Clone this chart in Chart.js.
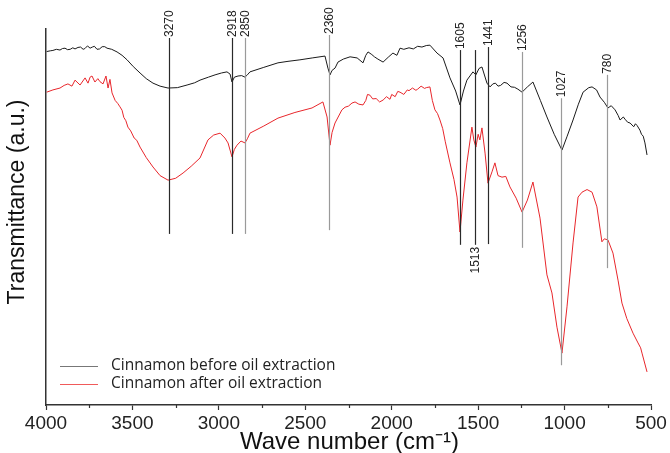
<!DOCTYPE html>
<html>
<head>
<meta charset="utf-8">
<script src="https://cdn.jsdelivr.net/npm/chart.js@4/dist/chart.umd.min.js"></script>
<style>
html,body{margin:0;padding:0;background:#fff;}
#wrap{width:670px;height:453px;position:relative;}
</style>
</head>
<body>
<div id="wrap"><canvas id="c" width="670" height="453"></canvas></div>
<script>
// ---- data (wavenumber in cm-1, transmittance in a.u.) ----
const seriesNames = ['Cinnamon before oil extraction', 'Cinnamon after oil extraction'];

const beforeWn = [3996,3975,3960,3940,3919,3905,3890,3875,3860,3845,3832,3815,3800,3785,3775,3760,3745,3732,3720,3705,3690,3675,3660,3647,3620,3589,3560,3531,3495,3456,3420,3381,3340,3294,3240,3184,3140,3109,3060,3022,2985,2953,2935,2924,2910,2889,2868,2849,2835,2820,2740,2658,2600,2531,2460,2386,2369,2357,2345,2328,2311,2280,2241,2200,2166,2150,2137,2115,2100,2080,2050,2020,1993,1970,1952,1930,1900,1875,1850,1825,1800,1779,1738,1703,1663,1630,1605,1585,1565,1530,1513,1495,1478,1449,1431,1415,1400,1385,1370,1350,1333,1310,1290,1270,1246,1215,1183,1140,1102,1060,1015,985,951,920,893,860,841,815,795,770,749,730,708,690,679,660,650,635,621,600,590,580,564,555,545,535,523];
const beforeT  = [94.0,94.2,94.3,94.6,94.4,94.8,94.9,94.5,94.6,95.0,94.7,95.1,95.2,94.6,94.8,95.5,94.9,95.2,95.4,94.6,94.7,95.3,95.3,94.9,94.6,93.9,93.0,91.8,90.0,88.3,86.8,85.6,84.8,84.3,84.4,85.1,85.7,86.4,87.2,87.8,88.3,88.6,88.0,85.9,87.2,87.5,87.6,87.2,87.8,88.6,89.8,91.0,91.4,91.8,92.3,92.8,89.6,87.8,89.0,89.6,91.2,92.0,92.6,92.3,91.0,93.0,93.9,93.2,92.6,92.0,91.2,92.5,93.6,93.0,94.9,94.6,95.0,94.7,95.4,95.2,95.6,95.7,93.6,92.3,87.0,83.5,79.8,83.5,86.4,88.6,87.8,89.5,89.9,85.6,84.6,85.4,85.6,84.8,85.0,85.8,85.6,84.6,84.5,84.0,83.2,84.6,85.9,81.0,76.6,72.0,67.8,71.5,75.8,80.0,83.2,84.4,84.6,83.8,81.9,80.5,79.0,79.6,78.5,77.0,75.8,76.6,76.0,75.2,75.0,74.0,74.8,74.3,73.1,72.0,71.5,69.7,66.5];

const afterWn = [3996,3960,3919,3895,3873,3850,3832,3803,3774,3757,3745,3734,3717,3700,3688,3670,3653,3641,3630,3618,3600,3585,3572,3560,3550,3538,3526,3510,3490,3475,3456,3420,3381,3340,3294,3250,3207,3160,3109,3063,3030,2993,2965,2947,2924,2910,2895,2872,2849,2835,2820,2740,2658,2560,2461,2398,2374,2357,2345,2328,2288,2270,2250,2230,2212,2190,2166,2150,2140,2126,2110,2090,2070,2050,2030,2010,2000,1980,1965,1952,1930,1910,1900,1880,1860,1850,1830,1810,1800,1779,1765,1750,1735,1721,1705,1690,1663,1640,1622,1605,1588,1565,1536,1525,1513,1500,1490,1478,1460,1443,1420,1403,1385,1362,1340,1316,1280,1246,1215,1183,1142,1102,1073,1044,1015,986,951,922,899,870,841,813,784,770,749,720,690,668,640,604,575,560,552,523];
const afterT  = [83.2,83.8,84.3,85.0,85.4,84.8,86.4,85.1,87.0,85.6,87.2,87.5,85.9,86.8,86.0,85.4,87.5,84.3,86.6,83.0,81.0,80.2,79.3,78.4,76.5,75.6,73.9,72.9,71.0,70.4,68.6,65.8,63.3,61.0,59.8,60.3,61.7,63.5,65.7,70.5,71.8,72.3,71.0,69.7,66.0,68.0,69.1,70.2,69.7,70.8,72.3,74.2,76.3,77.8,79.0,80.6,76.6,69.1,72.5,75.0,78.5,79.2,79.5,80.3,80.6,80.0,79.8,81.0,82.6,82.4,81.4,81.5,80.6,81.1,82.0,81.3,82.6,82.0,83.4,83.2,82.6,83.8,83.6,84.3,83.7,84.0,84.8,84.2,84.4,84.6,81.0,78.5,77.5,75.8,73.5,70.0,64.4,60.0,55.3,46.0,54.5,64.4,73.9,70.5,68.6,72.0,70.5,73.7,67.0,59.0,62.0,64.4,61.0,60.6,60.8,58.0,55.0,51.3,54.5,59.3,49.7,34.6,29.8,20.7,13.8,26.1,43.1,55.3,56.6,57.3,56.6,52.7,43.4,44.2,43.9,40.4,33.0,27.1,23.0,19.1,16.5,15.2,13.8,8.8];

const xTickValues = [4000,3500,3000,2500,2000,1500,1000,500];

// peak annotations
const peakLabels = ['3270','2918','2850','2360','1605','1513','1441','1256','1027','780'];
const peakWn     = [3290, 2924, 2849, 2360, 1605, 1518, 1443, 1245, 1021, 752];
const peakTop    = [97.6, 97.6, 97.6, 98.4, 94.4, 94.4, 95.2, 93.9, 81.6, 87.8];
const peakBottom = [45.5, 45.5, 45.5, 46.5, 42.6, 42.6, 42.8, 41.8, 10.6, 36.4];
const peakLabelBelow = [false,false,false,false,false,true,false,false,false,false];
const peakDark   = [true,true,false,false,true,true,true,false,false,false];

const lineColors = ['#1a1a1a', '#e8262b'];

function pairs(xs, ys){ return xs.map((x,i)=>({x:x, y:ys[i]})); }

const annotPlugin = {
  id: 'annot',
  afterDatasetsDraw(chart){
    const ctx = chart.ctx, xs = chart.scales.x, ys = chart.scales.y;
    ctx.save();
    ctx.font = '12px "Liberation Sans Narrow", "Liberation Sans", Arial, sans-serif';
    ctx.textBaseline = 'middle';
    peakLabels.forEach((lab,i)=>{
      const px = Math.round(xs.getPixelForValue(peakWn[i])) + 0.5;
      const t = ys.getPixelForValue(peakTop[i]);
      const b = ys.getPixelForValue(peakBottom[i]);
      ctx.strokeStyle = peakDark[i] ? '#2a2a2a' : '#9a9a9a';
      ctx.lineWidth = 1.2;
      ctx.beginPath(); ctx.moveTo(px, t); ctx.lineTo(px, b); ctx.stroke();
      ctx.fillStyle = '#222';
      ctx.save();
      if (peakLabelBelow[i]) {
        ctx.translate(px, b + 2);
        ctx.rotate(-Math.PI/2);
        ctx.textAlign = 'right';
      } else {
        ctx.translate(px, t - 1);
        ctx.rotate(-Math.PI/2);
        ctx.textAlign = 'left';
      }
      ctx.fillText(lab, 0, 0);
      ctx.restore();
    });
    // minor ticks
    ctx.strokeStyle = '#333'; ctx.lineWidth = 1.2;
    for (let v = 3750; v > 500; v -= 500) {
      const px = Math.round(xs.getPixelForValue(v)) + 0.5;
      ctx.beginPath(); ctx.moveTo(px, chart.chartArea.bottom); ctx.lineTo(px, chart.chartArea.bottom + 3); ctx.stroke();
    }
    // legend
    ctx.font = '15.5px "Open Sans", sans-serif';
    ctx.textAlign = 'left';
    ctx.textBaseline = 'middle';
    const legY = [366, 384];
    seriesNames.forEach((n,i)=>{
      ctx.strokeStyle = i === 0 ? '#777' : '#f05a5a';
      ctx.lineWidth = 1;
      ctx.beginPath(); ctx.moveTo(60, legY[i] + 0.5); ctx.lineTo(98, legY[i] + 0.5); ctx.stroke();
      ctx.fillStyle = '#222';
      ctx.fillText(n, 111, legY[i]);
    });
    // axis titles
    ctx.fillStyle = '#111';
    ctx.font = '24px "Liberation Sans", Arial, sans-serif';
    ctx.textAlign = 'center';
    ctx.textBaseline = 'middle';
    ctx.fillText('Wave number (cm\u207B\u00B9)', (chart.chartArea.left + chart.chartArea.right)/2 + 1, 442);
    ctx.font = '23px "Liberation Sans", Arial, sans-serif';
    ctx.save();
    ctx.translate(18, 202);
    ctx.rotate(-Math.PI/2);
    ctx.fillText('Transmittance (a.u.)', 0, 0);
    ctx.restore();
    ctx.restore();
  }
};

new Chart(document.getElementById('c'), {
  type: 'line',
  data: {
    datasets: [
      { label: seriesNames[0], data: pairs(beforeWn, beforeT), borderColor: lineColors[0], borderWidth: 1, pointRadius: 0, tension: 0, fill: false },
      { label: seriesNames[1], data: pairs(afterWn, afterT), borderColor: lineColors[1], borderWidth: 1, pointRadius: 0, tension: 0, fill: false }
    ]
  },
  options: {
    responsive: false,
    animation: false,
    devicePixelRatio: 1,
    layout: { padding: { left: 0, right: 19, top: 29, bottom: 0 } },
    plugins: { legend: { display: false }, tooltip: { enabled: false } },
    scales: {
      x: {
        type: 'linear', reverse: true, min: 500, max: 4000,
        afterBuildTicks: (s) => { s.ticks = xTickValues.map(v => ({ value: v })); },
        afterFit: (s) => { s.height = 48; },
        ticks: { color: '#222', font: { size: 19, family: '"Liberation Sans", Arial, sans-serif' }, padding: 2, maxRotation: 0, autoSkip: false,
                 callback: (v) => String(v) },
        grid: { drawOnChartArea: false, drawTicks: true, tickLength: 5, tickColor: '#333', tickWidth: 1.2 },
        border: { display: true, color: '#333', width: 1.5 }
      },
      y: {
        type: 'linear', min: 0, max: 100,
        afterFit: (s) => { s.width = 46; },
        ticks: { display: false },
        grid: { display: false, drawTicks: false },
        border: { display: true, color: '#333', width: 1.5 }
      }
    }
  },
  plugins: [annotPlugin]
});
</script>
</body>
</html>
